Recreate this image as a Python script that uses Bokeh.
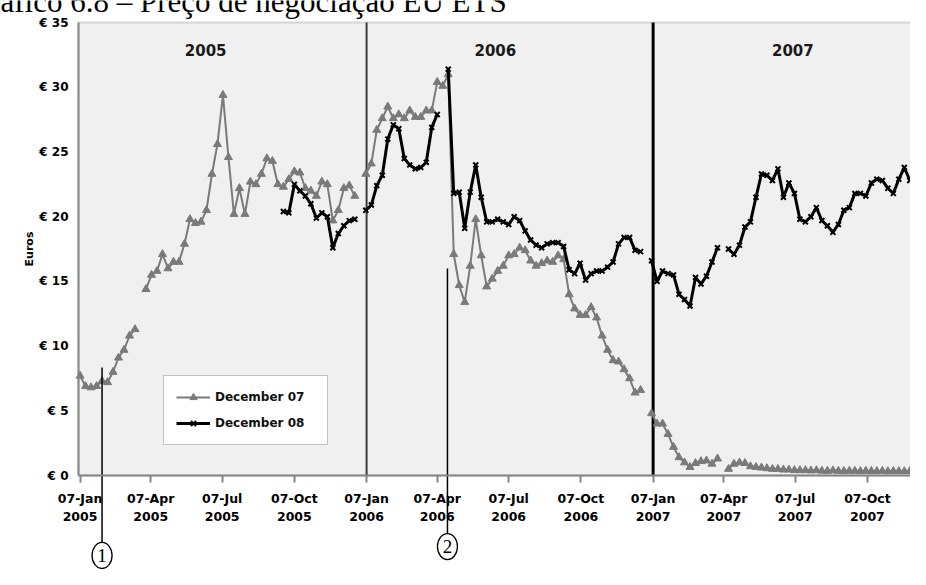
import numpy as np
import pandas as pd
from bokeh.plotting import figure
from bokeh.models import Range1d, FixedTicker, Label, BoxAnnotation
from bokeh.core.properties import value
from bokeh.embed import file_html
from bokeh.resources import INLINE

nan = float("nan")

# ---------------- data ----------------
dec07_start = "2005-01-07"   # weekly (Friday) prices, December 2007 contract
dec07 = [
    7.7, 6.9, 6.8, 6.9, 7.3, 7.2, 8.0, 9.1, 9.7, 10.8,
    11.3, nan, 14.4, 15.5, 15.8, 17.1, 16.0, 16.5, 16.5, 17.9,
    19.8, 19.5, 19.6, 20.5, 23.3, 25.6, 29.4, 24.6, 20.2, 22.2,
    20.2, 22.7, 22.5, 23.3, 24.5, 24.3, 22.5, 22.3, 22.9, 23.5,
    23.4, 22.2, 22.0, 21.6, 22.7, 22.5, 19.7, 20.5, 22.2, 22.4,
    21.6, nan, 23.3, 24.1, 26.7, 27.6, 28.5, 27.6, 27.9, 27.6,
    28.2, 27.7, 27.7, 28.2, 28.2, 30.4, 30.1, 31.0, 17.1, 14.7,
    13.4, 16.2, 19.8, 17.0, 14.6, 15.2, 15.8, 16.2, 17.0, 17.1,
    17.6, 17.4, 16.6, 16.2, 16.4, 16.6, 16.5, 17.0, 16.7, 14.0,
    12.9, 12.4, 12.4, 13.0, 12.2, 10.8, 9.7, 8.9, 8.8, 8.2,
    7.5, 6.4, 6.6, nan, 4.8, 4.0, 4.0, 3.2, 2.2, 1.4,
    1.0, 0.65, 0.95, 1.1, 1.15, 0.9, 1.3, nan, 0.5, 0.9,
    1.0, 0.95, 0.7, 0.65, 0.6, 0.55, 0.5, 0.5, 0.45, 0.45,
    0.4, 0.4, 0.4, 0.38, 0.4, 0.36, 0.35, 0.38, 0.35, 0.34,
    0.36, 0.35, 0.33, 0.35, 0.34, 0.33, 0.35, 0.32, 0.34, 0.33,
    0.32, 0.33, 0.3,
]

dec08_start = "2005-09-23"   # weekly (Friday) prices, December 2008 contract
dec08 = [
    20.4, 20.3, 22.5,
    22.0, 21.6, 21.0, 19.9, 20.3, 20.0, 17.6, 18.7, 19.3, 19.7,
    19.8, nan, 20.5, 20.9, 22.4, 23.2, 26.0, 27.1, 26.8, 24.5,
    24.0, 23.7, 23.8, 24.2, 26.9, 27.9, nan, 31.4, 21.8, 21.9,
    19.1, 21.9, 24.0, 21.5, 19.6, 19.6, 19.8, 19.6, 19.4, 20.0,
    19.7, 18.9, 18.2, 17.8, 17.6, 17.9, 18.0, 18.0, 17.7, 15.9,
    15.6, 16.4, 15.1, 15.6, 15.8, 15.8, 16.1, 16.5, 17.9, 18.4,
    18.4, 17.4, 17.3, nan, 16.6, 15.0, 15.8, 15.6, 15.5, 14.0,
    13.6, 13.1, 15.3, 14.8, 15.4, 16.5, 17.6, nan, 17.5, 17.1,
    17.8, 19.2, 19.6, 21.5, 23.3, 23.2, 22.8, 23.7, 21.5, 22.6,
    21.8, 19.8, 19.6, 20.0, 20.7, 19.7, 19.3, 18.8, 19.4, 20.5,
    20.7, 21.8, 21.8, 21.6, 22.6, 22.9, 22.8, 22.2, 21.8, 22.9,
    23.8, 22.8, 22.8, 22.8,
]

x_tick_dates = ["2005-01-07", "2005-04-07", "2005-07-07", "2005-10-07",
                "2006-01-07", "2006-04-07", "2006-07-07", "2006-10-07",
                "2007-01-07", "2007-04-07", "2007-07-07", "2007-10-07"]
x_tick_labels = ["07-Jan\n2005", "07-Apr\n2005", "07-Jul\n2005", "07-Oct\n2005",
                 "07-Jan\n2006", "07-Apr\n2006", "07-Jul\n2006", "07-Oct\n2006",
                 "07-Jan\n2007", "07-Apr\n2007", "07-Jul\n2007", "07-Oct\n2007"]
y_ticks = [0, 5, 10, 15, 20, 25, 30, 35]
y_tick_labels = ["€ 0", "€ 5", "€ 10", "€ 15", "€ 20", "€ 25", "€ 30", "€ 35"]
y_grid = [5, 10, 15, 20, 25, 30]
year_names = ["2005", "2006", "2007"]
year_dividers = ["2006-01-07", "2007-01-07"]
series_names = ["December 07", "December 08"]
callout_names = ["1", "2"]
callout_dates = ["2005-02-04", "2006-04-20"]
title_text = "Gráfico 6.8 – Preço de negociação EU ETS"

DAY = 86400000.0


def ms(d):
    return pd.Timestamp(d).value / 1e6


def weekly_ms(start, n):
    return np.array([ms(start) + 7 * DAY * i for i in range(n)])


x07 = weekly_ms(dec07_start, len(dec07))
x08 = weekly_ms(dec08_start, len(dec08))
y07 = np.array(dec07, dtype=float)
y08 = np.array(dec08, dtype=float)

# ---------------- figure ----------------
W, H = 910, 569
PX_DAY = 0.785          # horizontal scale (pixels per day)
PX_EUR = 12.94          # vertical scale (pixels per euro)
AX_X, AX_Y = 78, 475    # pixel position of the axes' corner
x0 = ms("2005-01-05")   # left edge of the plotting area
x_end = x0 + (W - AX_X) / PX_DAY * DAY

p = figure(width=W, height=H, output_backend="svg", toolbar_location=None,
           x_range=Range1d(x0 - AX_X / PX_DAY * DAY, x_end),
           y_range=Range1d(-(H - AX_Y) / PX_EUR, AX_Y / PX_EUR),
           min_border=0)
p.background_fill_color = "white"
p.border_fill_color = "white"
p.outline_line_color = None
p.xgrid.visible = False
p.ygrid.visible = False

# grey plotting area with its frame
p.add_layout(BoxAnnotation(left=x0, right=x_end + 30 * DAY, bottom=0, top=35,
                           fill_color="#f0f0f0", fill_alpha=1,
                           line_color="#858585", line_width=2, level="underlay"))
p.segment(x0=[x0] * len(y_grid), x1=[x_end] * len(y_grid), y0=y_grid, y1=y_grid,
          line_color="#9c9c9c", line_width=1.6, level="underlay")

# x axis at y = 0
xt = [ms(d) for d in x_tick_dates]
xa = p.xaxis[0]
xa.fixed_location = 0
xa.bounds = (x0, x_end)
xa.ticker = FixedTicker(ticks=xt)
xa.major_label_overrides = {t: lab for t, lab in zip(xt, x_tick_labels)}
xa.axis_line_color = "#858585"
xa.axis_line_width = 2
xa.major_tick_line_color = "#858585"
xa.major_tick_line_width = 2
xa.major_tick_out = 7
xa.major_tick_in = 0
xa.minor_tick_line_color = None
xa.major_label_standoff = 8
xa.major_label_text_font = "DejaVu Sans"
xa.major_label_text_font_style = "bold"
xa.major_label_text_font_size = "12.5px"
xa.major_label_text_color = "black"

# y axis at the left edge of the plotting area
ya = p.yaxis[0]
ya.fixed_location = x0
ya.bounds = (0, 35)
ya.ticker = FixedTicker(ticks=y_ticks)
ya.major_label_overrides = {t: lab for t, lab in zip(y_ticks, y_tick_labels)}
ya.axis_line_color = "#858585"
ya.axis_line_width = 2
ya.major_tick_line_color = None
ya.minor_tick_line_color = None
ya.major_tick_out = 0
ya.major_tick_in = 0
ya.major_label_standoff = 10
ya.major_label_text_font = "DejaVu Sans"
ya.major_label_text_font_style = "bold"
ya.major_label_text_font_size = "12px"
ya.major_label_text_color = "black"
ya.axis_label = "Euros"
ya.axis_label_text_font = "DejaVu Sans"
ya.axis_label_text_font_style = "bold"
ya.axis_label_text_font_size = "11px"
ya.axis_label_text_color = "black"
ya.axis_label_standoff = 0

# year dividers
xd = [ms(d) for d in year_dividers]
p.segment(x0=xd[:1], x1=xd[:1], y0=[0], y1=[35], line_color="#3a3a3a", line_width=2)
p.segment(x0=xd[1:], x1=xd[1:], y0=[0], y1=[35], line_color="black", line_width=3)

# year headers
for name, d in zip(year_names, ["2005-06-16", "2006-06-20", "2007-07-04"]):
    p.add_layout(Label(x=ms(d), y=32.9, text=name, text_align="center",
                       text_baseline="middle", text_font="DejaVu Sans",
                       text_font_style="bold", text_font_size="15px",
                       text_color="#1a1a1a"))

# series
gray = "#7a7a7a"
p.line(x07, y07, line_color=gray, line_width=2, legend_label=series_names[0])
p.scatter(x07, y07, marker="triangle", size=8, fill_color=gray, line_color=gray,
          legend_label=series_names[0])
p.line(x08, y08, line_color="black", line_width=3, legend_label=series_names[1])
p.scatter(x08, y08, marker="x", size=7, line_color="black", line_width=2,
          legend_label=series_names[1])

# legend
lg = p.legend[0]
lg.location = (163, 124)
lg.label_text_font = "DejaVu Sans"
lg.label_text_font_style = "bold"
lg.label_text_font_size = "12px"
lg.label_text_color = "#111111"
lg.border_line_color = "#858585"
lg.border_line_width = 1.5
lg.background_fill_color = "white"
lg.background_fill_alpha = 1
lg.glyph_width = 34
lg.glyph_height = 18
lg.label_height = 18
lg.label_width = 100
lg.padding = 12
lg.spacing = 8
lg.margin = 0

# call-out leader lines with circled numbers
cx = [ms(d) for d in callout_dates]
p.segment(x0=cx, x1=cx, y0=[8.35, 16.0], y1=[-5.18, -4.48],
          line_color="black", line_width=1.5)
p.ellipse(x=cx, y=[-6.18, -5.49], width=20, height=26, width_units="screen",
          height_units="screen", fill_color="white", line_color="black",
          line_width=1.3)
p.text(x=cx, y=[-6.18, -5.49], text=callout_names, text_align="center",
       text_baseline="middle", text_font=value("Liberation Serif"),
       text_font_size="19px", text_color="black")

# title (its top is cut off by the picture's edge, as in the source)
p.add_layout(Label(x=x0 - 141 * DAY, y=(AX_Y - 1) / PX_EUR, text=title_text,
                   text_align="left", text_baseline="alphabetic",
                   text_font="Liberation Serif", text_font_size="31px",
                   text_color="black"))

open("out.html", "w").write(file_html(p, INLINE))
